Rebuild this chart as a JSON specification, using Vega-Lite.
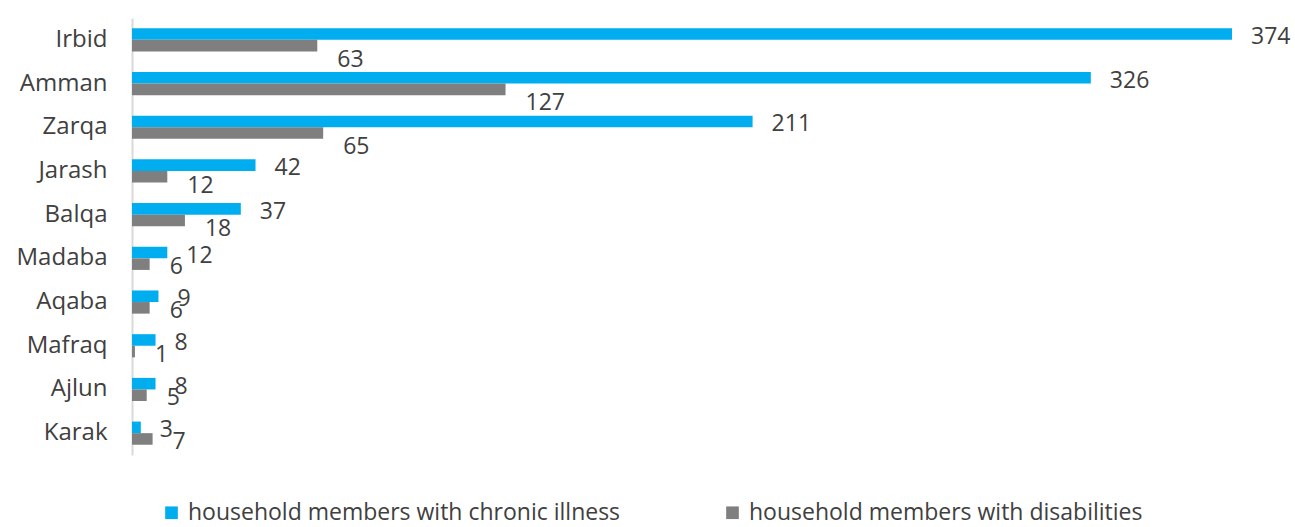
{
  "$schema": "https://vega.github.io/schema/vega-lite/v6.json",
  "width": 1100,
  "height": 437,
  "autosize": {"type": "none"},
  "padding": {"left": 132, "top": 18, "right": 63, "bottom": 72},
  "background": "white",
  "config": {
    "view": {"stroke": null},
    "font": "Open Sans",
    "text": {"font": "Open Sans"}
  },
  "data": {
    "values": [
      {"region": "Irbid", "series": "household members with chronic illness", "value": 374},
      {"region": "Irbid", "series": "household members with disabilities", "value": 63},
      {"region": "Amman", "series": "household members with chronic illness", "value": 326},
      {"region": "Amman", "series": "household members with disabilities", "value": 127},
      {"region": "Zarqa", "series": "household members with chronic illness", "value": 211},
      {"region": "Zarqa", "series": "household members with disabilities", "value": 65},
      {"region": "Jarash", "series": "household members with chronic illness", "value": 42},
      {"region": "Jarash", "series": "household members with disabilities", "value": 12},
      {"region": "Balqa", "series": "household members with chronic illness", "value": 37},
      {"region": "Balqa", "series": "household members with disabilities", "value": 18},
      {"region": "Madaba", "series": "household members with chronic illness", "value": 12},
      {"region": "Madaba", "series": "household members with disabilities", "value": 6},
      {"region": "Aqaba", "series": "household members with chronic illness", "value": 9},
      {"region": "Aqaba", "series": "household members with disabilities", "value": 6},
      {"region": "Mafraq", "series": "household members with chronic illness", "value": 8},
      {"region": "Mafraq", "series": "household members with disabilities", "value": 1},
      {"region": "Ajlun", "series": "household members with chronic illness", "value": 8},
      {"region": "Ajlun", "series": "household members with disabilities", "value": 5},
      {"region": "Karak", "series": "household members with chronic illness", "value": 3},
      {"region": "Karak", "series": "household members with disabilities", "value": 7}
    ]
  },
  "encoding": {
    "y": {
      "field": "region",
      "type": "nominal",
      "sort": ["Irbid", "Amman", "Zarqa", "Jarash", "Balqa", "Madaba", "Aqaba", "Mafraq", "Ajlun", "Karak"],
      "scale": {"paddingInner": 0.47, "paddingOuter": 0.235},
      "axis": {
        "title": null,
        "ticks": false,
        "domainColor": "#d9d9d9",
        "domainWidth": 2,
        "labelFontSize": 24,
        "labelColor": "#404040",
        "labelPadding": 25,
        "labelFont": "Open Sans"
      }
    },
    "yOffset": {"field": "series", "type": "nominal"},
    "x": {
      "field": "value",
      "type": "quantitative",
      "scale": {"domain": [0, 374], "nice": false},
      "axis": null
    }
  },
  "layer": [
    {
      "mark": {"type": "bar"},
      "encoding": {
        "color": {
          "field": "series",
          "type": "nominal",
          "scale": {
            "domain": ["household members with chronic illness", "household members with disabilities"],
            "range": ["#00AEEF", "#7F7F7F"]
          },
          "legend": {
            "title": null,
            "orient": "none",
            "direction": "horizontal",
            "legendX": 28,
            "legendY": 483,
            "symbolType": "square",
            "symbolSize": 160,
            "symbolStrokeWidth": 0,
            "labelFontSize": 23,
            "labelLimit": 0,
            "labelColor": "#404040",
            "labelFont": "Open Sans",
            "columnPadding": 100,
            "labelOffset": 5
          }
        }
      }
    },
    {
      "transform": [{"filter": "datum.series === 'household members with chronic illness'"}],
      "mark": {"type": "text", "align": "left", "baseline": "middle", "dx": 19, "dy": 3, "fontSize": 23, "color": "#404040"},
      "encoding": {"text": {"field": "value", "type": "quantitative"}}
    },
    {
      "transform": [{"filter": "datum.series === 'household members with disabilities'"}],
      "mark": {"type": "text", "align": "left", "baseline": "middle", "dx": 20, "dy": {"expr": "datum.value > 50 ? 14 : datum.value >= 10 ? 9 : 3"}, "fontSize": 23, "color": "#404040"},
      "encoding": {"text": {"field": "value", "type": "quantitative"}}
    }
  ]
}
